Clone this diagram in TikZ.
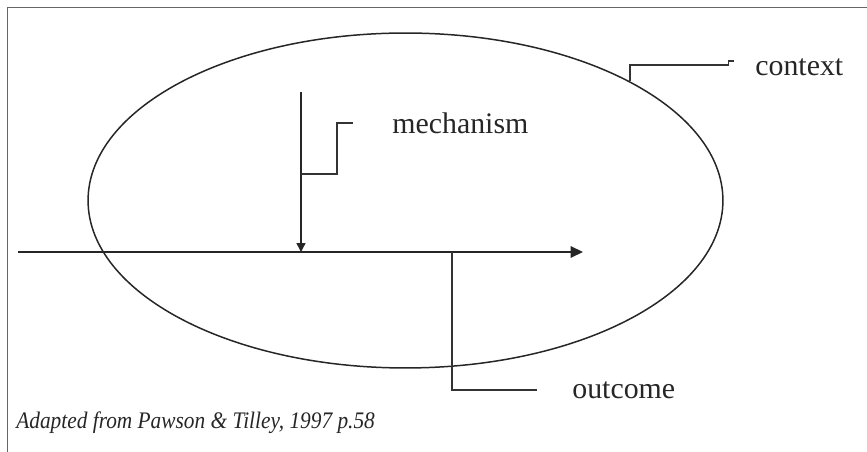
\documentclass[tikz,border=0pt]{standalone}
\usepackage{fontspec}
\setmainfont{Liberation Serif}
\newfontfamily\capfont[FakeStretch=0.9]{Liberation Serif}
\usepackage{tikz}
\usetikzlibrary{arrows.meta,shapes.geometric}
\tikzset{
  ctxshape/.style ={draw,ellipse,line width=0.85pt,black!85,
                    minimum width=12.7cm,minimum height=6.7cm,inner sep=0pt},
  lbl/.style      ={anchor=west,inner sep=0pt,text=black!85,
                    font=\fontsize{17}{20}\selectfont},
  leader/.style   ={line width=0.85pt,black!80},
  flow/.style     ={-{Triangle[length=7pt,width=6.5pt]},line width=0.85pt,black!85},
  push/.style     ={-{Triangle[length=5pt,width=5pt]},line width=0.85pt,black!85},
  frame/.style    ={line width=0.6pt,black!60},
}
\begin{document}
\begin{tikzpicture}[x=0.02cm,y=-0.02cm]
\useasboundingbox (0,0) rectangle (867,452);
% ---- frame (top and left only) ----
\coordinate (fl) at (7.5,452);
\coordinate (fc) at (7.5,7.5);
\coordinate (fr) at (867,7.5);
\draw[frame] (fl) -- (fc) -- (fr);
% ---- context ellipse ----
\node[ctxshape] (ctx) at (405.5,200.5) {};
% ---- main flow and mechanism ----
\coordinate (fin)  at (18,252);
\coordinate (fout) at (583,252);
\draw[flow] (fin) -- (fout);
\coordinate (mtop) at (301,92);
\coordinate (mhit) at (301,252);
\draw[push] (mtop) -- (mhit);
% ---- labels ----
\node[lbl] (lctx) at (755,67)  {context};
\node[lbl] (lmec) at (392,123) {mechanism};
\node[lbl] (lout) at (572,390) {outcome};
\node[lbl,font=\capfont\fontsize{13.5}{16}\selectfont\itshape] (cap) at (16,423)
  {Adapted from Pawson \& Tilley, 1997 p.58};
% ---- leaders ----
\coordinate (kc) at (734,61);
\draw[leader] (ctx.28) -- ++(0,-16) -| ([xshift=-3]kc) -- (kc);
\coordinate (km) at (301,174);
\draw[leader] (km) -- (337,174) |- ([xshift=-22]lmec.west);
\coordinate (ko) at (452,252);
\draw[leader] (ko) |- ([xshift=-20]lout.west);
\end{tikzpicture}
\end{document}
